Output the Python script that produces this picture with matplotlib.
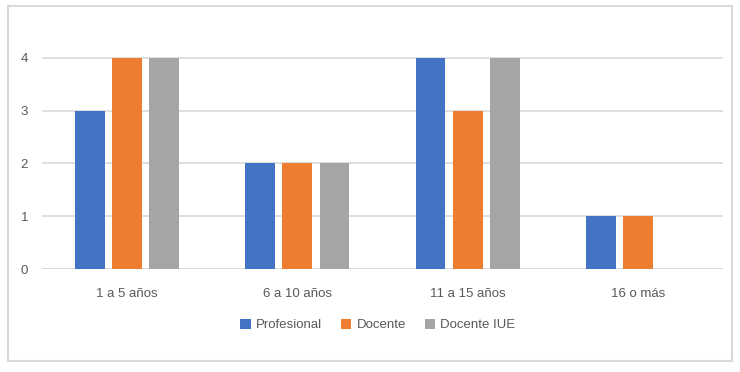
import matplotlib
matplotlib.use("Agg")
import matplotlib.pyplot as plt
from matplotlib.patches import Rectangle
import numpy as np

categories = ["1 a 5 años", "6 a 10 años", "11 a 15 años", "16 o más"]
series_names = ["Profesional", "Docente", "Docente IUE"]
profesional = [3, 2, 4, 1]
docente = [4, 2, 3, 1]
docente_iue = [4, 2, 4, 0]
yticks = [0, 1, 2, 3, 4]

colors = ["#4472C4", "#ED7D31", "#A5A5A5"]
text_color = "#595959"
grid_color = "#D9D9D9"

plt.rcParams["font.family"] = ["Liberation Sans", "DejaVu Sans"]

fig = plt.figure(figsize=(7.4, 3.72), dpi=100)
W, H = 740, 372
ax = fig.add_axes([42 / W, 1 - 269 / H, (723 - 42) / W, (269 - 21) / H])

x = np.arange(len(categories))
width = 0.176
offset = 0.218
values = [profesional, docente, docente_iue]
for i, (name, vals) in enumerate(zip(series_names, values)):
    ax.bar(x + (i - 1) * offset, vals, width=width, color=colors[i], label=name, zorder=3)

ax.set_xlim(-0.5, len(categories) - 0.5)
ax.set_ylim(0, 4.7)
ax.set_yticks(yticks)
ax.set_yticklabels([str(v) for v in yticks])
ax.set_xticks(x)
ax.set_xticklabels(categories)
ax.tick_params(axis="both", length=0, colors=text_color, labelsize=9.5)
ax.tick_params(axis="y", pad=10)
ax.tick_params(axis="x", pad=14)
ax.grid(axis="y", color=grid_color, linewidth=1.2, zorder=0)
for s in ax.spines.values():
    s.set_visible(False)
ax.axhline(0, color=grid_color, linewidth=1.2, zorder=2)

leg = fig.legend(loc="center", bbox_to_anchor=(378 / W, 1 - 325 / H), ncol=3,
                 frameon=False, fontsize=9.5, handlelength=0.8, handleheight=0.8,
                 handletextpad=0.4, columnspacing=1.4)
for t in leg.get_texts():
    t.set_color(text_color)

fig.patches.append(Rectangle((8 / W, 1 - 361 / H), (732 - 8) / W, (361 - 6) / H,
                             transform=fig.transFigure, fill=False,
                             edgecolor=grid_color, linewidth=1.5))

fig.savefig("out.png", dpi=100, facecolor="white")
